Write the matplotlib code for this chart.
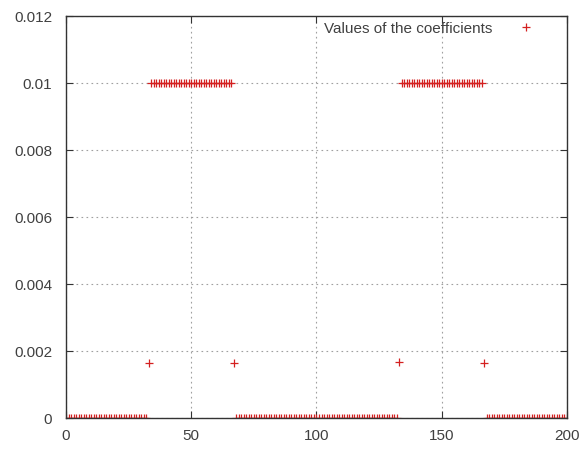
import matplotlib
matplotlib.use("Agg")
import matplotlib.pyplot as plt

# index of each coefficient
x_index = list(range(201))

# coefficient values (piecewise)
zeros_left = [0.0] * 33          # 0..32
edge_a = [0.00165]               # 33
plateau_1 = [0.01] * 33          # 34..66
edge_b = [0.00165]               # 67
zeros_mid = [0.0] * 65           # 68..132
edge_c = [0.00168]               # 133
plateau_2 = [0.01] * 33          # 134..166
edge_d = [0.00165]               # 167
zeros_right = [0.0] * 33         # 168..200

coef_values = (zeros_left + edge_a + plateau_1 + edge_b + zeros_mid
               + edge_c + plateau_2 + edge_d + zeros_right)

x_ticks = [0, 50, 100, 150, 200]
y_ticks = [0, 0.002, 0.004, 0.006, 0.008, 0.01, 0.012]
y_tick_labels = ["0", "0.002", "0.004", "0.006", "0.008", "0.01", "0.012"]

plt.rcParams["font.family"] = ["Liberation Sans", "DejaVu Sans"]

fig = plt.figure(figsize=(5.81, 4.5), dpi=100)
ax = fig.add_axes([0.1136, 0.0711, 0.8623, 0.8933])

ax.plot(x_index, coef_values, linestyle="none", marker="+", color="#d42020",
        markersize=6, markeredgewidth=0.9, label="Values of the coefficients")

ax.set_xlim(0, 200)
ax.set_ylim(0, 0.012)
ax.set_xticks(x_ticks)
ax.set_yticks(y_ticks)
ax.set_yticklabels(y_tick_labels)
ax.grid(True, linestyle=(0, (1.5, 3)), color="#a0a0a0", linewidth=0.8)
ax.tick_params(direction="in", top=True, right=True, length=5,
               labelsize=11, colors="#333333", labelcolor="#404040")
ax.tick_params(axis="y", pad=10)
ax.tick_params(axis="x", pad=8)
for s in ax.spines.values():
    s.set_color("#333333")
    s.set_linewidth(1.0)

leg = ax.legend(loc="upper right", frameon=False, markerfirst=False,
                fontsize=11, handletextpad=1.2, borderaxespad=0.1,
                bbox_to_anchor=(0.964, 1.005))
for t in leg.get_texts():
    t.set_color("#404040")

fig.savefig("out.png", dpi=100)
